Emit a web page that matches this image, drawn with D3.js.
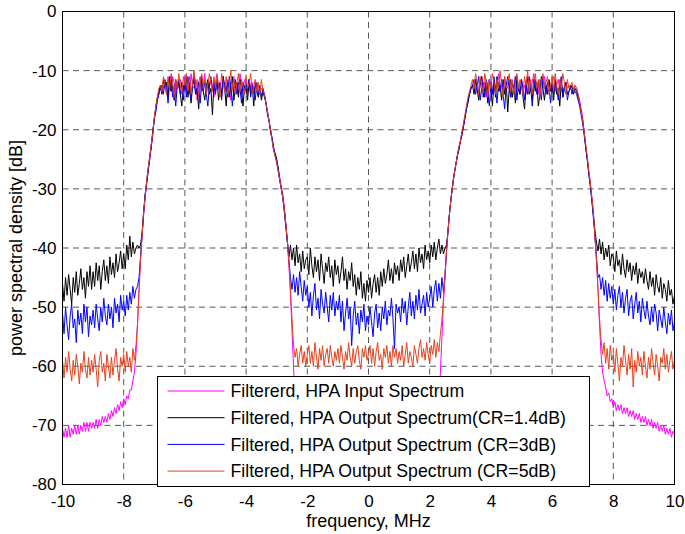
<!DOCTYPE html>
<html>
<head>
<meta charset="utf-8">
<script src="https://cdn.jsdelivr.net/npm/d3@7"></script>
<style>
body { margin: 0; background: #fff; }
svg { font-family: "Liberation Sans", Arial, Helvetica, sans-serif; }
</style>
</head>
<body>
<svg id="chart" width="685" height="534"></svg>
<script>
// sampling grid: -10 .. 10 MHz every 0.05 MHz (401 points), one row = 1 MHz
const freqStart = -10;
const freqStep = 0.05;

// Filtered, HPA input spectrum
const inputPsd = [
-70.5,-72,-70.5,-72,-70,-72,-70.5,-71.5,-70,-71.5,-70,-71.5,-70,-71,-69.5,-71,-69.5,-71,-69.5,-70.5,
-69.5,-70.5,-69,-70.5,-69,-70,-68.5,-69.5,-68.5,-69.5,-68,-69,-67.5,-68.5,-67,-68,-66.5,-67.5,-66,-67,
-65.5,-66.5,-65,-65.5,-64,-64,-62.5,-61,-58,-53,-47,-42,-38,-34,-31.5,-29,-27,-25,-23,-20.5,
-18,-16.5,-15,-14,-13,-12.5,-13,-12,-14,-11,-12.5,-13.5,-11,-12,-14.5,-12,-13,-11.5,-12.5,-13.5,
-11,-13.5,-12,-14,-10.5,-12.5,-13,-11.5,-15,-12,-11,-13.5,-12.5,-10.5,-14,-12,-13,-11.5,-12.5,-14.5,
-12,-10.5,-13,-12,-14.5,-11,-12.5,-13.5,-11.5,-12,-15,-12.5,-11,-13,-12,-14,-10.5,-12.5,-13,-11.5,
-12.5,-14,-11.5,-13,-12,-14,-12.5,-13,-12.5,-14,-13,-13.5,-14,-15.5,-17,-18.5,-20,-21.5,-23,-24,
-25,-26.5,-28,-29.5,-31,-33,-36,-39,-43,-48,-54,-60,-66,-70,-73,-75,-76,-77,-77.5,-78,
-78,-78.5,-78,-79,-78.5,-79,-78.5,-79.5,-79,-78.5,-79.5,-79,-79.5,-79,-79.5,-79.5,-79,-79.5,-79.5,-79.5,
-79.5,-79,-79.5,-79,-79.5,-79,-79.5,-79,-79.5,-79,-79.5,-79,-79.5,-79,-79.5,-79,-79.5,-79,-79.5,-79,
-79,-79.5,-79,-79.5,-79,-79.5,-79,-79.5,-79,-79.5,-79,-79.5,-79,-79.5,-79,-79.5,-79,-79.5,-79,-79.5,
-79.5,-79.5,-79,-79.5,-79,-79.5,-78.5,-79,-79.5,-78.5,-79,-79,-78.5,-79,-78.5,-78,-78.5,-78,-78,-77.5,
-77,-76.5,-76,-75,-73,-70,-66,-61,-55,-49,-45,-40.5,-37,-34,-31.5,-29,-27.5,-26,-24.5,-23.5,
-22,-21,-19.5,-18,-16.5,-15,-14,-13,-12.5,-13,-11.5,-12,-14,-12.5,-11,-13,-12,-14.5,-12,-11.5,
-12,-14,-11.5,-13,-12.5,-10.5,-13.5,-12,-14,-11,-12.5,-13,-11.5,-14.5,-12,-13,-11,-12.5,-13.5,-12,
-11.5,-13,-12.5,-14,-11,-12,-13.5,-12,-10.5,-13,-12.5,-14,-11.5,-12,-13,-11,-12.5,-14,-12,-13,
-12,-11,-13.5,-12.5,-11.5,-13,-12,-14,-12.5,-12,-13,-12.5,-13,-12.5,-13,-12.5,-13,-14,-15,-16.5,
-18,-20.5,-23,-25,-27,-29,-31.5,-34,-38,-42,-47,-53,-58,-61,-62.5,-63.5,-65,-64.5,-66,-65.5,
-67,-66,-67.5,-66.5,-67.5,-66.5,-68,-67,-68,-67,-68.5,-67.5,-68.5,-67.5,-69,-68,-69,-68,-69.5,-68.5,
-69.5,-68.5,-70,-69,-70,-69,-70.5,-69.5,-70.5,-69.5,-71,-70,-71,-70,-71.5,-70.5,-71.5,-70.5,-72,-71,
-71.5];

// Filtered, HPA output spectrum, CR = 1.4 dB
const outputCr14 = [
-46,-49,-45,-48,-44.5,-47,-49.5,-45,-47.5,-44,-48,-46,-43.5,-47,-45,-48.5,-44,-46.5,-43,-47,
-44,-46.5,-42.5,-45.5,-43,-47,-44,-42,-45.5,-43,-46,-41.5,-44.5,-42.5,-45,-41,-44,-42.5,-40.5,-43.5,
-41,-43.5,-39.5,-42,-38,-41.5,-39,-41,-40,-39.5,-40,-39.5,-37.5,-34,-31,-29,-27,-24.5,-23,-20,
-18.5,-16,-14.5,-13.5,-12.5,-14,-11.5,-13,-12,-14.5,-11,-13.5,-12.5,-15,-11.5,-13,-12,-14,-16,-12.5,
-13,-11,-14.5,-12,-15.5,-12.5,-11.5,-14,-13,-16.5,-12,-11,-13.5,-15,-12.5,-11.5,-14,-13,-17.5,-12,
-13.5,-11.5,-15,-12.5,-14,-11,-13,-16,-12,-14.5,-12.5,-11,-15,-13,-12,-14.5,-11.5,-13.5,-16,-12.5,
-13,-15,-11.5,-14,-12.5,-16,-12,-13.5,-14.5,-12.5,-15,-13.5,-14.5,-15.5,-17.5,-18.5,-20.5,-21.5,-23.5,-24,
-25,-26.5,-28.5,-30,-31.5,-34,-36.5,-39,-41.5,-39.5,-42,-40,-43,-39.5,-42.5,-41,-44,-40.5,-43.5,-42,
-41.5,-44.5,-40,-43,-45,-41.5,-44,-42,-45.5,-41,-43.5,-46,-42.5,-44,-41.5,-45,-43,-46.5,-42,-44.5,
-43,-46,-44,-41.5,-45.5,-43.5,-47,-44,-45.5,-42.5,-46.5,-44.5,-48,-45,-47,-44,-48.5,-46,-49,-45.5,
-47.5,-45,-48.5,-46,-44.5,-47.5,-45,-48,-44,-46.5,-43.5,-46,-44.5,-42,-45.5,-43.5,-46,-42.5,-44.5,-43,
-45.5,-42,-44,-41.5,-45,-43,-41,-44,-42.5,-40.5,-43.5,-41,-44,-40,-42.5,-41,-43.5,-39.5,-42,-40.5,
-42.5,-39.5,-41.5,-39,-42,-40,-38.5,-41,-39.5,-41,-40,-39.5,-37,-34,-31.5,-29.5,-27.5,-26,-24.5,-23.5,
-22,-21,-19.5,-18,-16.5,-15.5,-14,-13,-12.5,-14,-11.5,-13,-15,-12,-11,-14.5,-13,-12,-15.5,-11.5,
-13,-16,-12,-14.5,-11,-13.5,-12.5,-15,-11.5,-14,-12,-17,-13,-11.5,-14.5,-12.5,-15.5,-11,-13,-14,
-12,-14.5,-16.5,-12.5,-11,-14,-13,-15,-11.5,-13.5,-12,-16,-14,-11,-13,-15,-12.5,-14,-11.5,-13.5,
-12.5,-15,-11.5,-14,-13,-16,-12,-14.5,-13,-12,-14,-13.5,-13,-12.5,-14,-13,-13.5,-14.5,-15.5,-17,
-18.5,-20.5,-23,-25,-27.5,-29.5,-32,-34.5,-37,-39,-40.5,-38.5,-41,-39,-42,-40,-41.5,-39.5,-43,-41,
-41.5,-44,-40.5,-43,-42,-44.5,-41,-43.5,-45,-42,-44,-42.5,-45.5,-43,-44.5,-42.5,-46,-43.5,-45,-44,
-46,-43.5,-45.5,-47,-44,-46.5,-45,-48,-44.5,-46.5,-47.5,-45,-48.5,-46,-47,-49,-45.5,-48,-47,-49.5,
-48];

// Filtered, HPA output spectrum, CR = 3 dB
const outputCr3 = [
-51,-54.5,-50,-53,-55.5,-51.5,-49.5,-53.5,-52,-56,-50.5,-53,-51,-54.5,-49.5,-52.5,-50,-55,-51.5,-53,
-50.5,-53.5,-49.5,-52,-54,-50,-52.5,-48.5,-51.5,-53,-49.5,-52,-50,-53.5,-48.5,-51,-49.5,-52.5,-48,-50.5,
-49,-51.5,-48,-50.5,-47.5,-49.5,-46.5,-48.5,-47,-46.5,-45,-41.5,-38,-34.5,-31,-29,-26.5,-25,-22.5,-21,
-18,-17,-15,-14,-13,-12.5,-14,-11.5,-13,-15.5,-12,-11,-14.5,-13,-16,-12.5,-11.5,-14,-12,-15,
-12,-14.5,-11,-13,-15,-12.5,-10.5,-14,-13,-12,-15.5,-11.5,-13.5,-12,-14,-16,-12.5,-11,-13.5,-12,
-14,-11.5,-13,-12,-15,-11,-13.5,-12.5,-14.5,-11,-12.5,-16,-13,-11.5,-14,-12,-13,-15.5,-12,-14,
-12,-13.5,-11.5,-14.5,-12.5,-13,-15,-12,-14,-13,-14.5,-13,-14,-15.5,-17,-18.5,-20,-21.5,-23,-24.5,
-25.5,-27,-28.5,-30,-31.5,-33.5,-36,-39,-42,-45,-47,-44.5,-47.5,-45,-48,-44,-46.5,-49,-45.5,-48,
-46.5,-50,-47.5,-51.5,-48,-46,-50.5,-48.5,-52,-47,-49.5,-51,-47.5,-50,-52.5,-48,-50.5,-47.5,-51.5,-49,
-50.5,-48,-52.5,-49,-54,-51,-48.5,-52,-50,-56.5,-51.5,-49,-53,-51,-54.5,-50.5,-52.5,-49.5,-54,-51.5,
-53,-50,-52.5,-55,-51,-49.5,-53.5,-51,-54,-50,-52,-49,-53,-50.5,-51.5,-48.5,-52,-57,-49.5,-51,
-50,-52.5,-48.5,-51,-49,-53,-50,-47.5,-51.5,-49,-52,-48,-50.5,-47,-51,-49.5,-48,-51.5,-47.5,-50,
-48.5,-46.5,-50,-47,-45.5,-49,-46,-48.5,-45,-47.5,-44.5,-40.5,-37,-34,-31.5,-29.5,-27.5,-26,-24.5,-23,
-22,-20.5,-19.5,-18,-16.5,-15,-14,-13,-12.5,-11.5,-14,-12.5,-11,-15,-13,-12,-14.5,-11.5,-13.5,-16,
-12,-14,-11,-13,-15.5,-12,-13.5,-11.5,-14,-16.5,-12.5,-11,-13,-14.5,-12,-13.5,-11,-15,-12.5,-14,
-11.5,-13,-15,-12,-14,-11,-12.5,-16,-13,-11.5,-14,-12,-13.5,-15,-11,-12.5,-14,-12,-13,-15.5,
-12,-14,-11.5,-13,-15,-12.5,-11,-14.5,-13,-12,-15,-13.5,-12.5,-14,-13,-13.5,-14,-15,-16,-17.5,
-19,-21,-23,-25,-27.5,-29.5,-32,-35,-38,-41.5,-45,-44.5,-47,-45,-48,-45.5,-49,-46,-48.5,-46.5,
-49.5,-47,-50.5,-48,-46.5,-50,-47.5,-51,-48.5,-47,-51.5,-49,-48,-52,-49.5,-47.5,-51,-49,-52.5,-48.5,
-50.5,-52,-49,-51.5,-53,-50,-52.5,-49.5,-51,-54,-50.5,-52,-53.5,-50,-52.5,-54.5,-51,-53,-50.5,-54,
-52.5];

// Filtered, HPA output spectrum, CR = 5 dB
const outputCr5 = [
-59,-62,-58.5,-61,-57.5,-60.5,-62.5,-59,-61.5,-58,-60,-63,-59.5,-61,-57.5,-60.5,-62,-58.5,-61.5,-59,
-61,-58,-60.5,-63.5,-59,-57.5,-61,-59.5,-62.5,-58,-60,-62,-58.5,-61.5,-59,-57,-60.5,-62.5,-58.5,-60,
-58,-61,-57.5,-60,-58.5,-61,-57,-59,-56.5,-53,-47.5,-42,-38,-34,-31.5,-28.5,-26.5,-24.5,-22.5,-20.5,
-18,-16,-14.5,-13,-12.5,-13.5,-11,-12.5,-14,-11.5,-13,-10.5,-12,-14.5,-11.5,-13,-10.5,-12.5,-14,-11,
-12.5,-10.5,-13.5,-11,-14,-12,-10,-13,-11.5,-14.5,-12,-10.5,-13,-11.5,-14,-12.5,-10.5,-12,-13.5,-11,
-13,-11,-12.5,-14.5,-10.5,-12,-13.5,-11,-14,-12.5,-10,-13,-11.5,-14,-12,-10.5,-13.5,-11.5,-12.5,-14,
-11,-13,-12,-10.5,-14,-12.5,-11.5,-13.5,-12,-14,-11.5,-13.5,-14,-15.5,-17,-18.5,-20,-22,-23.5,-24.5,
-25.5,-27,-28.5,-30,-31.5,-33.5,-36,-39,-42.5,-47,-52,-56.5,-58.5,-57,-60,-58,-56.5,-59.5,-57.5,-60,
-58,-56.5,-59.5,-57.5,-60,-56,-58.5,-60.5,-57,-59,-56.5,-60,-58,-57,-59.5,-56.5,-58.5,-60,-57.5,-59,
-57,-59.5,-56.5,-58.5,-60.5,-57.5,-59,-56,-58.5,-60,-57,-59.5,-57.5,-56.5,-59,-60.5,-57,-58.5,-56.5,-59,
-58,-56.5,-59.5,-57,-60,-57.5,-56,-59,-58,-60.5,-57,-58.5,-56.5,-59.5,-57.5,-60,-56.5,-58.5,-57,-59.5,
-57.5,-59,-56.5,-60,-58,-56,-59.5,-57.5,-58.5,-60,-56.5,-58,-59.5,-57,-55.5,-58.5,-57,-59,-56,-58,
-59.5,-56.5,-58,-55.5,-58.5,-56,-57.5,-54.5,-52,-48.5,-44.5,-40.5,-37,-34,-31.5,-29.5,-27.5,-26,-24.5,-23,
-22,-20.5,-19,-17.5,-16,-14.5,-13.5,-12.5,-11.5,-13,-10.5,-12,-14,-11,-12.5,-13.5,-10.5,-12,-14.5,-11.5,
-13,-10.5,-12,-14,-11.5,-13,-10,-12.5,-14.5,-11,-13,-12,-10.5,-13.5,-11.5,-14,-12,-10.5,-13,-11.5,
-12.5,-14,-11,-12.5,-10,-13.5,-11.5,-14,-12,-10.5,-13,-11.5,-14.5,-12,-10.5,-13,-12,-11,-14,-12.5,
-11,-13.5,-10.5,-12.5,-14,-11.5,-13,-10.5,-12,-14,-11.5,-13,-12.5,-12,-13.5,-12.5,-13,-14,-15.5,-17,
-18.5,-20.5,-22.5,-24.5,-27,-29,-31.5,-34,-38,-42,-47,-52,-55.5,-58,-56,-59.5,-57,-60.5,-56.5,-59,
-58,-61,-57,-59.5,-62.5,-58.5,-60,-56.5,-59,-61.5,-58,-60.5,-57,-63.5,-59,-61,-57.5,-60,-58.5,-61.5,
-57.5,-60,-62,-58.5,-60.5,-57,-59.5,-61.5,-58,-60,-62.5,-58.5,-59.5,-57,-60.5,-58,-61,-59,-57.5,-60.5,
-59];

const seriesNames = [
  "Filtererd, HPA Input Spectrum",
  "Filtered, HPA Output Spectrum(CR=1.4dB)",
  "Filtered, HPA Output Spectrum (CR=3dB)",
  "Filtered, HPA Output Spectrum (CR=5dB)"
];
const seriesData = [inputPsd, outputCr14, outputCr3, outputCr5];
const seriesColors = ["#ff00ff", "#000000", "#0000ff", "#e2431e"];

const xTicks = [-10, -8, -6, -4, -2, 0, 2, 4, 6, 8, 10];
const yTicks = [0, -10, -20, -30, -40, -50, -60, -70, -80];

const svg = d3.select("#chart");
const W = 685, H = 534;
const plotL = 62.5, plotR = 674.5, plotT = 11.5, plotB = 484.5;

const x = d3.scaleLinear().domain([-10, 10]).range([plotL, plotR]);
const y = d3.scaleLinear().domain([-80, 0]).range([plotB, plotT]);

seriesData.forEach((s, k) => {
  if (s.length !== 401) console.log("length", k, s.length);
});

svg.append("rect").attr("width", W).attr("height", H).attr("fill", "#fff");

// dashed grid
const grid = svg.append("g").attr("stroke", "#444").attr("stroke-width", 0.9)
  .attr("stroke-dasharray", "6,4.5").attr("fill", "none");
grid.selectAll("line.vx")
  .data(xTicks.slice(1, -1))
  .enter().append("line")
  .attr("x1", d => x(d)).attr("x2", d => x(d))
  .attr("y1", plotT).attr("y2", plotB);
grid.selectAll("line.hy")
  .data(yTicks.slice(1, -1))
  .enter().append("line")
  .attr("y1", d => y(d)).attr("y2", d => y(d))
  .attr("x1", plotL).attr("x2", plotR);

svg.append("clipPath").attr("id", "plotclip")
  .append("rect").attr("x", plotL).attr("y", plotT)
  .attr("width", plotR - plotL).attr("height", plotB - plotT);

const line = d3.line()
  .x((d, i) => x(freqStart + i * freqStep))
  .y(d => y(d));

svg.append("g").attr("clip-path", "url(#plotclip)")
  .selectAll("path")
  .data(seriesData)
  .enter().append("path")
  .attr("d", d => line(d))
  .attr("fill", "none")
  .attr("stroke", (d, i) => seriesColors[i])
  .attr("stroke-width", 1)
  .attr("stroke-linejoin", "round");

// axes (labels only, box drawn separately)
const xAxis = svg.append("g")
  .attr("transform", `translate(0,${plotB})`)
  .call(d3.axisBottom(x).tickValues(xTicks).tickSize(0).tickPadding(10));
const yAxis = svg.append("g")
  .attr("transform", `translate(${plotL},0)`)
  .call(d3.axisLeft(y).tickValues(yTicks).tickSize(0).tickPadding(6));
[xAxis, yAxis].forEach(a => {
  a.select(".domain").remove();
  a.selectAll("text").attr("font-size", 17).attr("fill", "#000")
    .attr("font-family", "Liberation Sans, Arial, sans-serif");
});
// plain ascii hyphen like the original
svg.selectAll(".tick text").text(d => String(d));

svg.append("rect")
  .attr("x", plotL).attr("y", plotT)
  .attr("width", plotR - plotL).attr("height", plotB - plotT)
  .attr("fill", "none").attr("stroke", "#000").attr("stroke-width", 1);

svg.append("text")
  .attr("x", (plotL + plotR) / 2).attr("y", 527)
  .attr("text-anchor", "middle").attr("font-size", 18)
  .text("frequency, MHz");
svg.append("text")
  .attr("transform", `translate(22,${(plotT + plotB) / 2}) rotate(-90)`)
  .attr("text-anchor", "middle").attr("font-size", 18)
  .text("power spectral density [dB]");

// legend
const leg = svg.append("g").attr("transform", "translate(157.5,376.5)");
leg.append("rect").attr("width", 432).attr("height", 110)
  .attr("fill", "#fff").attr("stroke", "#000").attr("stroke-width", 1);
const rows = leg.selectAll("g.row")
  .data(seriesNames)
  .enter().append("g")
  .attr("transform", (d, i) => `translate(0,${14.5 + i * 26.7})`);
rows.append("line")
  .attr("x1", 10).attr("x2", 67).attr("y1", 0).attr("y2", 0)
  .attr("stroke", (d, i) => seriesColors[i]).attr("stroke-width", 1);
rows.append("text")
  .attr("x", 73).attr("y", 0).attr("dy", "0.35em")
  .attr("font-size", 17.7).text(d => d);
</script>
</body>
</html>
